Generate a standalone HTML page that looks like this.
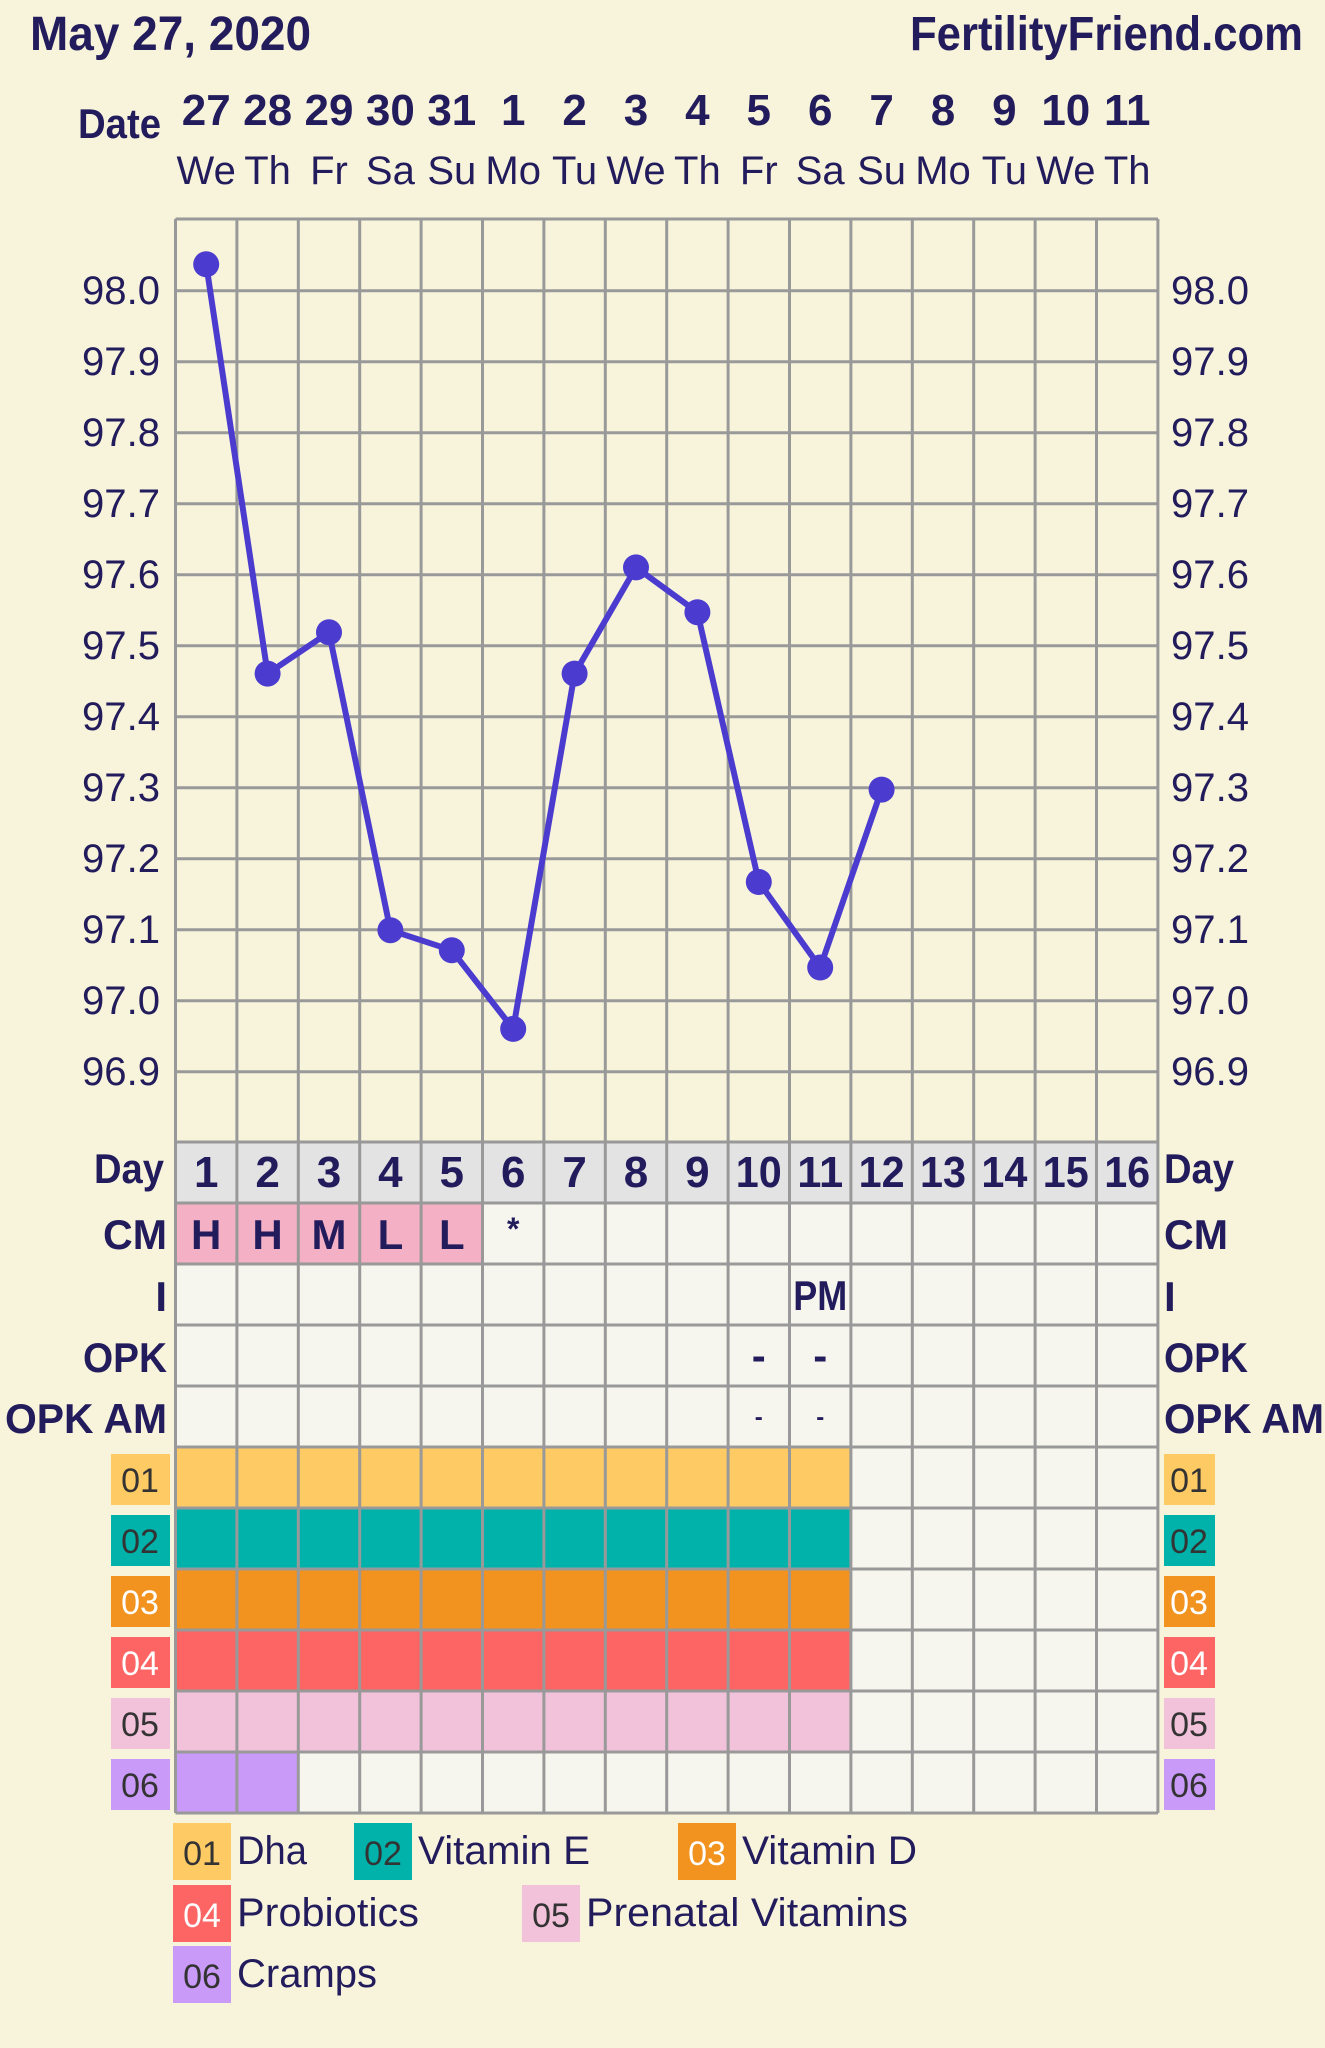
<!DOCTYPE html>
<html><head><meta charset="utf-8"><style>
html,body{margin:0;padding:0;background:#f8f4dc;}
svg{display:block}
text{fill:#231c5c;font-family:"Liberation Sans",sans-serif}
.b{font-weight:bold}
.s{font-family:"Liberation Serif",serif;font-weight:bold}
</style></head><body>
<svg width="1325" height="2048" viewBox="0 0 1325 2048" xmlns="http://www.w3.org/2000/svg">
<rect width="1325" height="2048" fill="#f8f4dc"/>
<text x="30" y="50" font-size="48" class="b" textLength="281" lengthAdjust="spacingAndGlyphs">May 27, 2020</text>
<text x="910" y="50" font-size="48" class="b" textLength="393" lengthAdjust="spacingAndGlyphs">FertilityFriend.com</text>
<text x="78" y="138" font-size="42" class="b" textLength="83" lengthAdjust="spacingAndGlyphs">Date</text>
<g font-size="44" class="b" text-anchor="middle">
<text x="206.2" y="125">27</text><text x="267.6" y="125">28</text><text x="329" y="125">29</text><text x="390.4" y="125">30</text><text x="451.8" y="125">31</text><text x="513.2" y="125">1</text><text x="574.6" y="125">2</text><text x="636" y="125">3</text><text x="697.4" y="125">4</text><text x="758.8" y="125">5</text><text x="820.2" y="125">6</text><text x="881.6" y="125">7</text><text x="943" y="125">8</text><text x="1004.4" y="125">9</text><text x="1065.8" y="125">10</text><text x="1127.2" y="125">11</text>
</g>
<g font-size="40" text-anchor="middle">
<text x="206.2" y="184">We</text><text x="267.6" y="184">Th</text><text x="329" y="184">Fr</text><text x="390.4" y="184">Sa</text><text x="451.8" y="184">Su</text><text x="513.2" y="184">Mo</text><text x="574.6" y="184">Tu</text><text x="636" y="184">We</text><text x="697.4" y="184">Th</text><text x="758.8" y="184">Fr</text><text x="820.2" y="184">Sa</text><text x="881.6" y="184">Su</text><text x="943" y="184">Mo</text><text x="1004.4" y="184">Tu</text><text x="1065.8" y="184">We</text><text x="1127.2" y="184">Th</text>
</g>
<g font-size="40">
<g text-anchor="end">
<text x="160" y="304" textLength="78" lengthAdjust="spacingAndGlyphs">98.0</text><text x="160" y="375" textLength="78" lengthAdjust="spacingAndGlyphs">97.9</text><text x="160" y="446" textLength="78" lengthAdjust="spacingAndGlyphs">97.8</text><text x="160" y="517" textLength="78" lengthAdjust="spacingAndGlyphs">97.7</text><text x="160" y="588" textLength="78" lengthAdjust="spacingAndGlyphs">97.6</text><text x="160" y="659" textLength="78" lengthAdjust="spacingAndGlyphs">97.5</text><text x="160" y="730" textLength="78" lengthAdjust="spacingAndGlyphs">97.4</text><text x="160" y="801" textLength="78" lengthAdjust="spacingAndGlyphs">97.3</text><text x="160" y="872" textLength="78" lengthAdjust="spacingAndGlyphs">97.2</text><text x="160" y="943" textLength="78" lengthAdjust="spacingAndGlyphs">97.1</text><text x="160" y="1014" textLength="78" lengthAdjust="spacingAndGlyphs">97.0</text><text x="160" y="1085" textLength="78" lengthAdjust="spacingAndGlyphs">96.9</text>
</g>
<text x="1171" y="304" textLength="78" lengthAdjust="spacingAndGlyphs">98.0</text><text x="1171" y="375" textLength="78" lengthAdjust="spacingAndGlyphs">97.9</text><text x="1171" y="446" textLength="78" lengthAdjust="spacingAndGlyphs">97.8</text><text x="1171" y="517" textLength="78" lengthAdjust="spacingAndGlyphs">97.7</text><text x="1171" y="588" textLength="78" lengthAdjust="spacingAndGlyphs">97.6</text><text x="1171" y="659" textLength="78" lengthAdjust="spacingAndGlyphs">97.5</text><text x="1171" y="730" textLength="78" lengthAdjust="spacingAndGlyphs">97.4</text><text x="1171" y="801" textLength="78" lengthAdjust="spacingAndGlyphs">97.3</text><text x="1171" y="872" textLength="78" lengthAdjust="spacingAndGlyphs">97.2</text><text x="1171" y="943" textLength="78" lengthAdjust="spacingAndGlyphs">97.1</text><text x="1171" y="1014" textLength="78" lengthAdjust="spacingAndGlyphs">97.0</text><text x="1171" y="1085" textLength="78" lengthAdjust="spacingAndGlyphs">96.9</text>
</g>
<rect x="175.5" y="1142" width="982.4" height="671" fill="#f6f6ee"/>
<rect x="175.5" y="1142" width="982.4" height="61" fill="#e3e3e3"/>
<rect x="175.5" y="1203" width="307" height="61" fill="#f4b0c4"/>
<rect x="175.5" y="1447" width="675.4" height="61" fill="#fdca64"/>
<rect x="175.5" y="1508" width="675.4" height="61" fill="#00b2aa"/>
<rect x="175.5" y="1569" width="675.4" height="61" fill="#f29320"/>
<rect x="175.5" y="1630" width="675.4" height="61" fill="#fd6464"/>
<rect x="175.5" y="1691" width="675.4" height="61" fill="#f2c2da"/>
<rect x="175.5" y="1752" width="122.8" height="61" fill="#c99af7"/>
<g stroke="#999" stroke-width="3" fill="none">
<path d="M175.5 219V1813M236.9 219V1813M298.3 219V1813M359.7 219V1813M421.1 219V1813M482.5 219V1813M543.9 219V1813M605.3 219V1813M666.7 219V1813M728.1 219V1813M789.5 219V1813M850.9 219V1813M912.3 219V1813M973.7 219V1813M1035.1 219V1813M1096.5 219V1813M1157.9 219V1813"/>
<path d="M175.5 219H1158M175.5 290.7H1158M175.5 361.7H1158M175.5 432.7H1158M175.5 503.7H1158M175.5 574.7H1158M175.5 645.7H1158M175.5 716.7H1158M175.5 787.7H1158M175.5 858.7H1158M175.5 929.7H1158M175.5 1000.7H1158M175.5 1071.7H1158"/>
<path d="M175.5 1142H1158M175.5 1203H1158M175.5 1264H1158M175.5 1325H1158M175.5 1386H1158M175.5 1447H1158M175.5 1508H1158M175.5 1569H1158M175.5 1630H1158M175.5 1691H1158M175.5 1752H1158M175.5 1813H1158"/>
</g>
<polyline fill="none" stroke="#4b3ccf" stroke-width="6" stroke-linejoin="round" points="206.2,264.3 267.6,673.6 329,632.3 390.4,930.2 451.8,950.3 513.2,1028.9 574.6,673.6 636,567.4 697.4,612.2 758.8,882 820.2,967.5 881.6,789.6"/>
<g fill="#4b3ccf">
<circle cx="206.2" cy="264.3" r="13"/><circle cx="267.6" cy="673.6" r="13"/><circle cx="329" cy="632.3" r="13"/><circle cx="390.4" cy="930.2" r="13"/><circle cx="451.8" cy="950.3" r="13"/><circle cx="513.2" cy="1028.9" r="13"/><circle cx="574.6" cy="673.6" r="13"/><circle cx="636" cy="567.4" r="13"/><circle cx="697.4" cy="612.2" r="13"/><circle cx="758.8" cy="882" r="13"/><circle cx="820.2" cy="967.5" r="13"/><circle cx="881.6" cy="789.6" r="13"/>
</g>
<g font-size="44" class="b" text-anchor="middle">
<text x="206.2" y="1187">1</text><text x="267.6" y="1187">2</text><text x="329" y="1187">3</text><text x="390.4" y="1187">4</text><text x="451.8" y="1187">5</text><text x="513.2" y="1187">6</text><text x="574.6" y="1187">7</text><text x="636" y="1187">8</text><text x="697.4" y="1187">9</text><text x="758.8" y="1187" textLength="46" lengthAdjust="spacingAndGlyphs">10</text><text x="820.2" y="1187" textLength="46" lengthAdjust="spacingAndGlyphs">11</text><text x="881.6" y="1187" textLength="46" lengthAdjust="spacingAndGlyphs">12</text><text x="943" y="1187" textLength="46" lengthAdjust="spacingAndGlyphs">13</text><text x="1004.4" y="1187" textLength="46" lengthAdjust="spacingAndGlyphs">14</text><text x="1065.8" y="1187" textLength="46" lengthAdjust="spacingAndGlyphs">15</text><text x="1127.2" y="1187" textLength="46" lengthAdjust="spacingAndGlyphs">16</text>
</g>
<text x="164" y="1183" font-size="42" class="b" text-anchor="end" textLength="70" lengthAdjust="spacingAndGlyphs">Day</text>
<text x="1164" y="1183" font-size="42" class="b" textLength="70" lengthAdjust="spacingAndGlyphs">Day</text>
<g font-size="42" class="s" text-anchor="middle">
<text x="206.2" y="1249">H</text><text x="267.6" y="1249">H</text><text x="329" y="1249">M</text><text x="390.4" y="1249">L</text><text x="451.8" y="1249">L</text><text x="513.2" y="1240" font-size="32">*</text>
<text x="820.2" y="1310" textLength="54" lengthAdjust="spacingAndGlyphs">PM</text>
<text x="758.8" y="1370">-</text><text x="820.2" y="1370">-</text>
<text x="758.8" y="1425" font-size="24">-</text><text x="820.2" y="1425" font-size="24">-</text>
</g>
<g font-size="42" class="s" text-anchor="end">
<text x="167" y="1249" textLength="64" lengthAdjust="spacingAndGlyphs">CM</text>
<text x="167" y="1311">I</text>
<text x="167" y="1372" textLength="84" lengthAdjust="spacingAndGlyphs">OPK</text>
<text x="167" y="1433" textLength="162" lengthAdjust="spacingAndGlyphs">OPK AM</text>
</g>
<g font-size="42" class="s">
<text x="1164" y="1249" textLength="64" lengthAdjust="spacingAndGlyphs">CM</text>
<text x="1164" y="1311">I</text>
<text x="1164" y="1372" textLength="84" lengthAdjust="spacingAndGlyphs">OPK</text>
<text x="1164" y="1433" textLength="160" lengthAdjust="spacingAndGlyphs">OPK AM</text>
</g>
<rect x="111" y="1454" width="59" height="51" fill="#fdca64"/><rect x="1164" y="1454" width="51" height="51" fill="#fdca64"/>
<rect x="111" y="1515" width="59" height="51" fill="#00b2aa"/><rect x="1164" y="1515" width="51" height="51" fill="#00b2aa"/>
<rect x="111" y="1576" width="59" height="51" fill="#f29320"/><rect x="1164" y="1576" width="51" height="51" fill="#f29320"/>
<rect x="111" y="1637" width="59" height="51" fill="#fd6464"/><rect x="1164" y="1637" width="51" height="51" fill="#fd6464"/>
<rect x="111" y="1698" width="59" height="51" fill="#f2c2da"/><rect x="1164" y="1698" width="51" height="51" fill="#f2c2da"/>
<rect x="111" y="1759" width="59" height="51" fill="#c99af7"/><rect x="1164" y="1759" width="51" height="51" fill="#c99af7"/>
<g font-size="34" text-anchor="middle">
<text x="140" y="1492" style="fill:#333">01</text><text x="1189" y="1492" style="fill:#333">01</text>
<text x="140" y="1553" style="fill:#333">02</text><text x="1189" y="1553" style="fill:#333">02</text>
<text x="140" y="1614" style="fill:#fff">03</text><text x="1189" y="1614" style="fill:#fff">03</text>
<text x="140" y="1675" style="fill:#fff">04</text><text x="1189" y="1675" style="fill:#fff">04</text>
<text x="140" y="1736" style="fill:#333">05</text><text x="1189" y="1736" style="fill:#333">05</text>
<text x="140" y="1797" style="fill:#333">06</text><text x="1189" y="1797" style="fill:#333">06</text>
</g>
<rect x="173" y="1823" width="58" height="57" fill="#fdca64"/>
<rect x="354" y="1823" width="58" height="57" fill="#00b2aa"/>
<rect x="678" y="1823" width="58" height="57" fill="#f29320"/>
<rect x="173" y="1885" width="58" height="57" fill="#fd6464"/>
<rect x="522" y="1885" width="58" height="57" fill="#f2c2da"/>
<rect x="173" y="1946" width="58" height="57" fill="#c99af7"/>
<g font-size="34" text-anchor="middle">
<text x="202" y="1865" style="fill:#333">01</text>
<text x="383" y="1865" style="fill:#333">02</text>
<text x="707" y="1865" style="fill:#fff">03</text>
<text x="202" y="1927" style="fill:#fff">04</text>
<text x="551" y="1927" style="fill:#333">05</text>
<text x="202" y="1988" style="fill:#333">06</text>
</g>
<g font-size="40">
<text x="237" y="1864" textLength="70" lengthAdjust="spacingAndGlyphs">Dha</text>
<text x="418" y="1864" textLength="172" lengthAdjust="spacingAndGlyphs">Vitamin E</text>
<text x="742" y="1864" textLength="175" lengthAdjust="spacingAndGlyphs">Vitamin D</text>
<text x="237" y="1926" textLength="182" lengthAdjust="spacingAndGlyphs">Probiotics</text>
<text x="586" y="1926" textLength="322" lengthAdjust="spacingAndGlyphs">Prenatal Vitamins</text>
<text x="237" y="1987" textLength="140" lengthAdjust="spacingAndGlyphs">Cramps</text>
</g>
</svg>
</body></html>
